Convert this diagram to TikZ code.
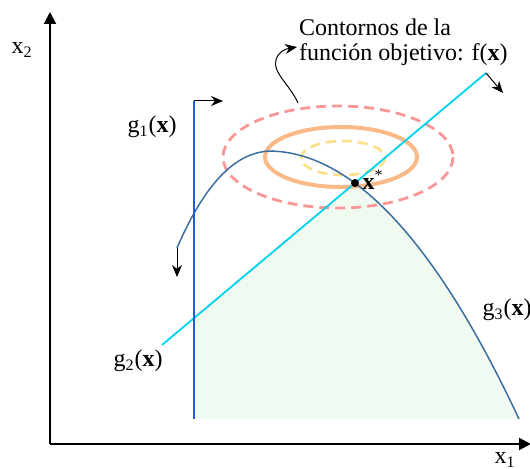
\documentclass[tikz,border=0pt]{standalone}
\usepackage{fontspec}
\setmainfont{Liberation Serif}
\usetikzlibrary{arrows.meta}
\definecolor{feasible}{RGB}{240,250,240}
\definecolor{gonecol}{RGB}{30,90,235}
\definecolor{gtwocol}{RGB}{0,210,240}
\definecolor{gthreecol}{RGB}{60,110,160}
\definecolor{outercol}{RGB}{250,150,150}
\definecolor{midcol}{RGB}{250,185,135}
\definecolor{innercol}{RGB}{250,225,140}

\begin{document}
\begin{tikzpicture}[x=0.5pt,y=-0.5pt,font=\fontsize{12}{12.5}\selectfont,
  axis/.style={line width=1pt,-{Triangle[length=6pt,width=6pt]}},
  hint/.style={line width=0.5pt,-{Stealth[length=6pt,width=5pt]}},
  contour/.style={line width=1.4pt,dash pattern=on 5pt off 3pt}]
\useasboundingbox (0,0) rectangle (530,469);
\coordinate (O) at (50,444);
\coordinate (xstar) at (355,183);
\coordinate (gtwoA) at (162,345);
\coordinate (gtwoB) at (486,73);
\coordinate (goneA) at (194,419);
\coordinate (goneB) at (194,101);
\coordinate (gthreeA) at (177,248);
\coordinate (gthreeB) at (519,419);
% feasible region
\fill[feasible] (goneA) -- (194,318) -- (xstar)
  -- plot[domain=355:519,samples=40] (\x,{151+268*((\x-268)/251)^2})
  -- (gthreeB) -- cycle;
% contours of f(x)
\draw[contour,outercol] (338,157) ellipse [x radius=115, y radius=51];
\draw[line width=2pt,midcol] (341,157) ellipse [x radius=76, y radius=30];
\draw[contour,innercol] (343,158) ellipse [x radius=42, y radius=17];
% axes
\draw[axis] (O) -- (50,12);
\draw[axis] (O) -- (531,444);
% constraints
\draw[line width=0.9pt,gtwocol] (gtwoA) -- (gtwoB);
\draw[line width=0.75pt,gthreecol] (gthreeA) .. controls (200,195) and (230,151) .. (272,151)
  -- plot[domain=272:519,samples=50] (\x,{151+268*((\x-268)/251)^2});
\draw[line width=1pt,gonecol] (goneA) -- (goneB);
% directions
\draw[hint] (goneB) -- (223,101);
\draw[hint] (gtwoB) -- (503,93);
\draw[hint] (gthreeA) -- (177,277);
\draw[hint] (298,103) .. controls (290,85) and (272,72) .. (276,60)
  .. controls (278,52) and (285,49) .. (297,47);
% optimum
\fill (xstar) circle (2pt);
\node (xstarlab) at (373,180) {\textbf{x}\textsuperscript{*}};
% labels
\node (xtwolab) at (22,50) {x\textsubscript{2}};
\node (xonelab) at (505,460) {x\textsubscript{1}};
\node (gonelab) at (152,127) {g\textsubscript{1}(\textbf{x})};
\node (gtwolab) at (138,361) {g\textsubscript{2}(\textbf{x})};
\node (gthreelab) at (507,310) {g\textsubscript{3}(\textbf{x})};
\node[anchor=west,align=left] (flab) at (292,42) {Contornos de la\\función objetivo: f(\textbf{x})};
\end{tikzpicture}
\end{document}
